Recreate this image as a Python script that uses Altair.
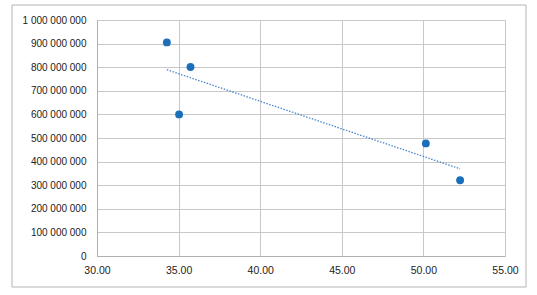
import altair as alt
import pandas as pd

x_vals = [34.28, 35.73, 35.03, 50.15, 52.25]
y_vals = [905_000_000, 801_000_000, 600_000_000, 477_000_000, 321_000_000]
x_ticks = [30, 35, 40, 45, 50, 55]
y_ticks = [i * 100_000_000 for i in range(11)]

df = pd.DataFrame({"x": x_vals, "y": y_vals})

W, H = 408, 236
FONT = "Liberation Sans Narrow, Arial Narrow, Liberation Sans, sans-serif"

xscale = alt.Scale(domain=[30, 55], nice=False, zero=False)
yscale = alt.Scale(domain=[0, 1_000_000_000], nice=False)

xaxis = alt.Axis(values=x_ticks, format=".2f", title=None, ticks=False, labelPadding=9,
                 labelOverlap=False, labelBound=False, labelFlush=False,
                 grid=True, gridColor="#c8c8c8", domainColor="#b0b0b0",
                 labelFont=FONT, labelFontSize=10.5, labelColor="#222")
yaxis = alt.Axis(values=y_ticks, format=",d", title=None, ticks=False, labelPadding=11,
                 labelOverlap=False, labelBound=False, labelFlush=False,
                 grid=True, gridColor="#c8c8c8", domainColor="#b0b0b0",
                 labelFont=FONT, labelFontSize=10, labelColor="#222")

base = alt.Chart(df)

points = base.mark_point(filled=True, size=62, color="#1b6fba", opacity=1).encode(
    x=alt.X("x:Q", scale=xscale, axis=xaxis),
    y=alt.Y("y:Q", scale=yscale, axis=yaxis),
)

trend = base.transform_regression("x", "y").mark_line(
    color="#4a86cc", strokeWidth=1.3, strokeDash=[1.5, 1.5]
).encode(x=alt.X("x:Q", scale=xscale, axis=xaxis), y=alt.Y("y:Q", scale=yscale, axis=yaxis))

border = alt.Chart(pd.DataFrame({"a": [0]})).mark_rect(
    fill=None, stroke="#b4b4b4", strokeWidth=1, clip=False
).encode(
    x=alt.value(-85), x2=alt.value(429), y=alt.value(-15), y2=alt.value(267)
)

chart = alt.layer(border, points, trend).properties(
    width=W, height=H,
    autosize=alt.AutoSizeParams(type="none"),
    padding={"left": 97, "top": 20, "right": 32, "bottom": 39},
    background="white",
).configure_view(stroke=None).configure(
    locale={"number": {"decimal": ".", "thousands": " ", "grouping": [3], "currency": ["", ""]}}
)

chart.save("out.html", embed_options={"renderer": "svg", "actions": False})
